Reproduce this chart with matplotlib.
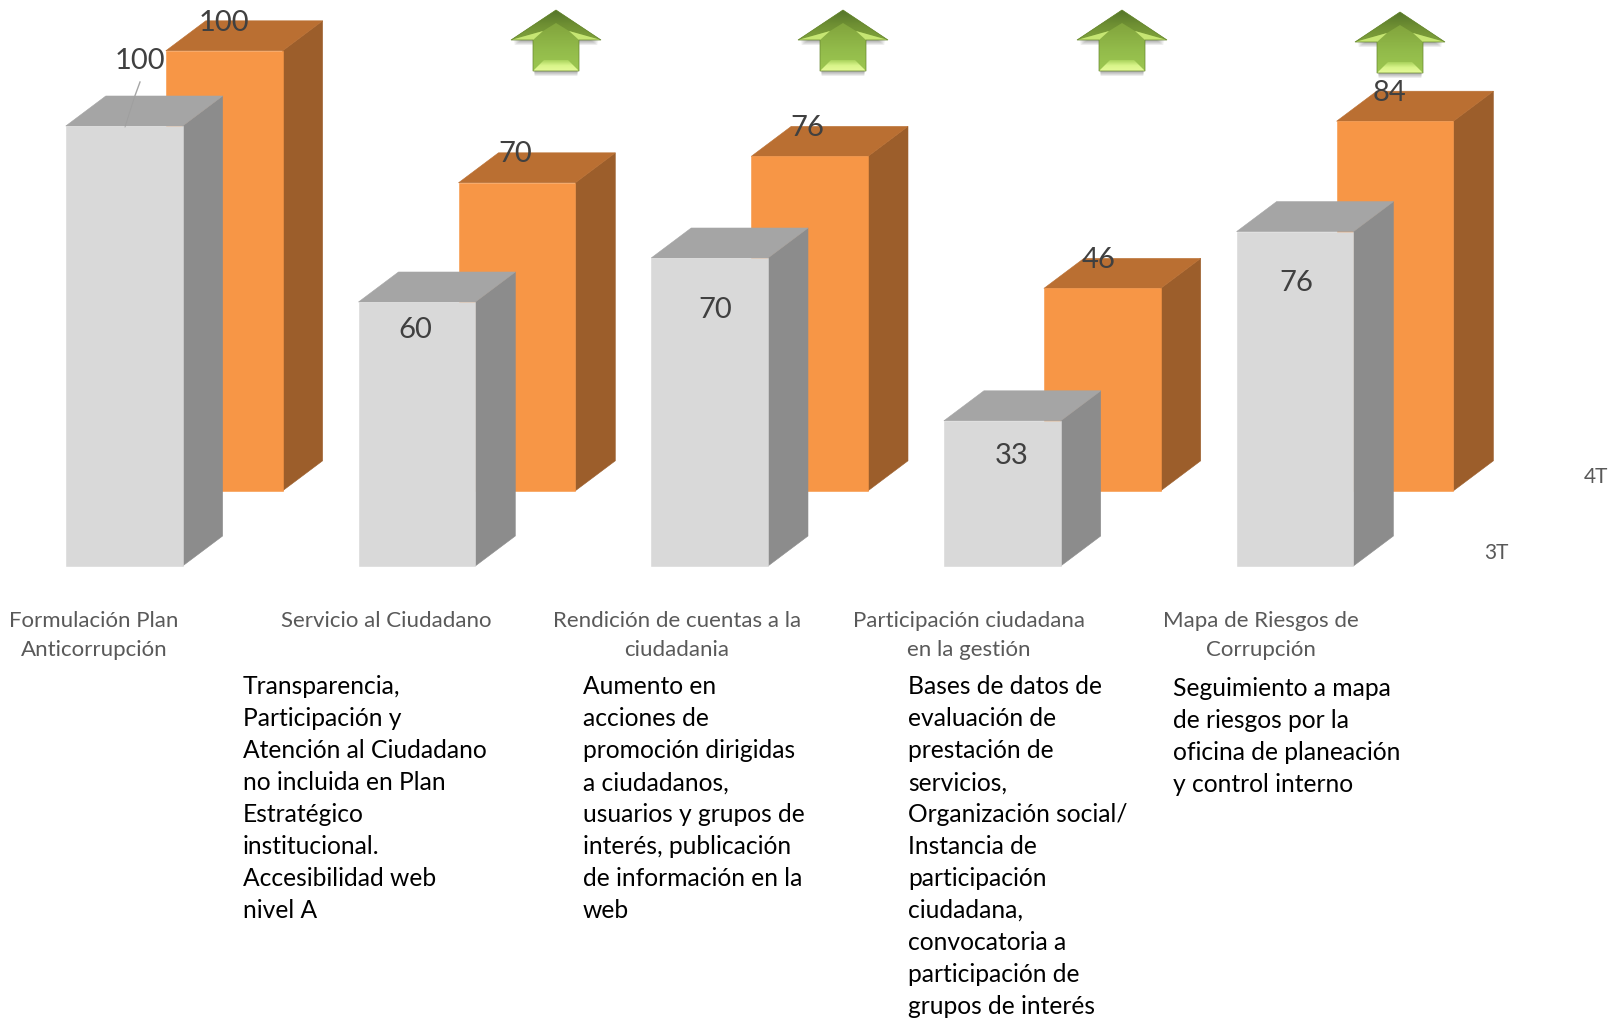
import numpy as np
import matplotlib
matplotlib.use('Agg')
import matplotlib.pyplot as plt
from matplotlib.patches import Polygon
from matplotlib.colors import LinearSegmentedColormap

plt.rcParams['font.family'] = ['Lato', 'DejaVu Sans']

categories = [['Formulación Plan', 'Anticorrupción'],
              ['Servicio al Ciudadano'],
              ['Rendición de cuentas a la', 'ciudadania'],
              ['Participación ciudadana', 'en la gestión'],
              ['Mapa de Riesgos de', 'Corrupción']]
values_3t = [100, 60, 70, 33, 76]
values_4t = [100, 70, 76, 46, 84]

notes = [['Transparencia,', 'Participación y', 'Atención al Ciudadano', 'no incluida en Plan',
          'Estratégico', 'institucional.', 'Accesibilidad web', 'nivel A'],
         ['Aumento en', 'acciones de', 'promoción dirigidas', 'a ciudadanos,',
          'usuarios y grupos de', 'interés, publicación', 'de información en la', 'web'],
         ['Bases de datos de', 'evaluación de', 'prestación de', 'servicios,',
          'Organización social/', 'Instancia de', 'participación', 'ciudadana,',
          'convocatoria a', 'participación de', 'grupos de interés'],
         ['Seguimiento a mapa', 'de riesgos por la', 'oficina de planeación', 'y control interno']]

W, H = 1612, 1019
fig = plt.figure(figsize=(W/100, H/100), dpi=100)

# main axes: x in category units, y in value units, covers whole figure
ppx = 292.7   # pixels per category
ppy = 4.4     # pixels per value unit
ax = fig.add_axes([0, 0, 1, 1])
ax.set_xlim(-124.2/ppx, (W-124.2)/ppx)
ax.set_ylim((566-H)/ppy, 566/ppy)
ax.axis('off')

# overlay in pixels for text and arrows
pax = fig.add_axes([0, 0, 1, 1], facecolor='none')
pax.set_xlim(0, W)
pax.set_ylim(H, 0)
pax.axis('off')

bar_w = 116.8/ppx
dx = 40/ppx
dy = 30/ppy


def bars3d(xs, vals, base, front, top, side):
    x0 = np.array(xs) - bar_w/2
    for x, v in zip(x0, vals):
        y1 = base + v
        ax.fill([x+bar_w, x+bar_w+dx, x+bar_w+dx, x+bar_w],
                [y1, y1+dy, base+dy, base], fc=side, ec=side, lw=0.4)
        ax.fill([x, x+dx, x+bar_w+dx, x+bar_w], [y1, y1+dy, y1+dy, y1], fc=top, ec=top, lw=0.4)
    ax.bar(x0, vals, width=bar_w, bottom=base, align='edge', color=front, ec=front, lw=0.4)


pos = np.arange(len(values_3t))
bars3d(pos + 100/ppx, values_4t, 75.2/ppy, '#F79646', '#BA6F32', '#9C5E2B')
bars3d(pos, values_3t, 0, '#D9D9D9', '#A5A5A5', '#8C8C8C')

# data labels
lab_col = '#404040'
lab_3t = [(140, 61), (415, 330), (715, 310), (1012, 456), (1296, 283)]
lab_4t = [(224, 23), (515, 154), (807, 128), (1099, 260), (1390, 93)]
for (x, y), v in zip(lab_3t, values_3t):
    pax.text(x, y, str(v), fontsize=21, color=lab_col, ha='center', va='center', zorder=8)
for (x, y), v in zip(lab_4t, values_4t):
    pax.text(x, y, str(v), fontsize=21, color=lab_col, ha='center', va='center', zorder=8)
# leader of the first label, nearly lost on the grey top
pax.plot([140, 134.5], [82, 97], color='#A6A6A6', lw=1)
pax.plot([134.5, 125], [97, 127], color='#9E9E9E', lw=0.6)

# category labels
cat_x = [94, 386, 677, 969, 1261]
for x, lines in zip(cat_x, categories):
    for i, s in enumerate(lines):
        pax.text(x, 621 + i*29, s, fontsize=16, color='#595959', ha='center', va='center')
pax.text(1596, 477, '4T', fontsize=15, color='#595959', ha='center', va='center')
pax.text(1496, 553, '3T', fontsize=15, color='#595959', ha='center', va='center')

# notes under the chart
note_x = [243, 583, 908, 1173]
note_y = [687, 687, 687, 689]
for x, y, lines in zip(note_x, note_y, notes):
    for i, s in enumerate(lines):
        pax.text(x, y + i*31.9, s, fontsize=17.7, color='black', ha='left', va='center')

# green arrows
arrow_x = [556, 843, 1122, 1400]
arrow_y = [10, 10, 10, 12]
grad = np.linspace(0, 1, 64).reshape(-1, 1)
green = LinearSegmentedColormap.from_list('g', ['#7C9E3A', '#86AA40', '#93BC4B', '#9CC650'])
bevel = LinearSegmentedColormap.from_list('b', ['#A9D25C', '#D9F58A', '#E4FA98'])
head = LinearSegmentedColormap.from_list('h', ['#55752A', '#6F9033', '#7FA23C'])
for cx, ty in zip(arrow_x, arrow_y):
    outline = [(cx, ty), (cx+45, ty+30), (cx+23, ty+30), (cx+23, ty+61), (cx-23, ty+61),
               (cx-23, ty+30), (cx-45, ty+30)]
    # soft shadow
    for k in range(5):
        sh = [(cx + (a-cx)*(0.95-0.005*k), b+1+k) for a, b in outline]
        pax.add_patch(Polygon(sh, fc='#000000', ec='none', alpha=0.07, zorder=3))
    body = Polygon(outline, fc='none', ec='none', zorder=4)
    pax.add_patch(body)
    im = pax.imshow(grad, cmap=green, extent=(cx-45, cx+45, ty+61, ty), aspect='auto', zorder=4)
    im.set_clip_path(body)
    # head bevel, dark at the tip
    hd = Polygon([(cx-45, ty+30), (cx, ty), (cx+45, ty+30), (cx+13, ty+21), (cx, ty+13), (cx-13, ty+21)],
                 fc='none', ec='none', zorder=5)
    pax.add_patch(hd)
    im2 = pax.imshow(grad, cmap=head, extent=(cx-45, cx+45, ty+30, ty), aspect='auto', zorder=5)
    im2.set_clip_path(hd)
    # light bevels, wings and foot of the shaft
    foot = Polygon([(cx-23, ty+61), (cx+23, ty+61), (cx+12, ty+50), (cx-12, ty+50)],
                   fc='none', ec='none', zorder=5)
    pax.add_patch(foot)
    im3 = pax.imshow(grad, cmap=bevel, extent=(cx-23, cx+23, ty+61, ty+50), aspect='auto', zorder=5)
    im3.set_clip_path(foot)
    for s in (-1, 1):
        pax.add_patch(Polygon([(cx+s*45, ty+30), (cx+s*23, ty+30), (cx+s*13, ty+21)],
                              fc='#C6E673', ec='none', zorder=6))
    pax.add_patch(Polygon(outline, fc='none', ec='#66862F', lw=0.5, zorder=7))

pax.set_xlim(0, W)
pax.set_ylim(H, 0)
fig.savefig('out.png', dpi=100, facecolor='white')
